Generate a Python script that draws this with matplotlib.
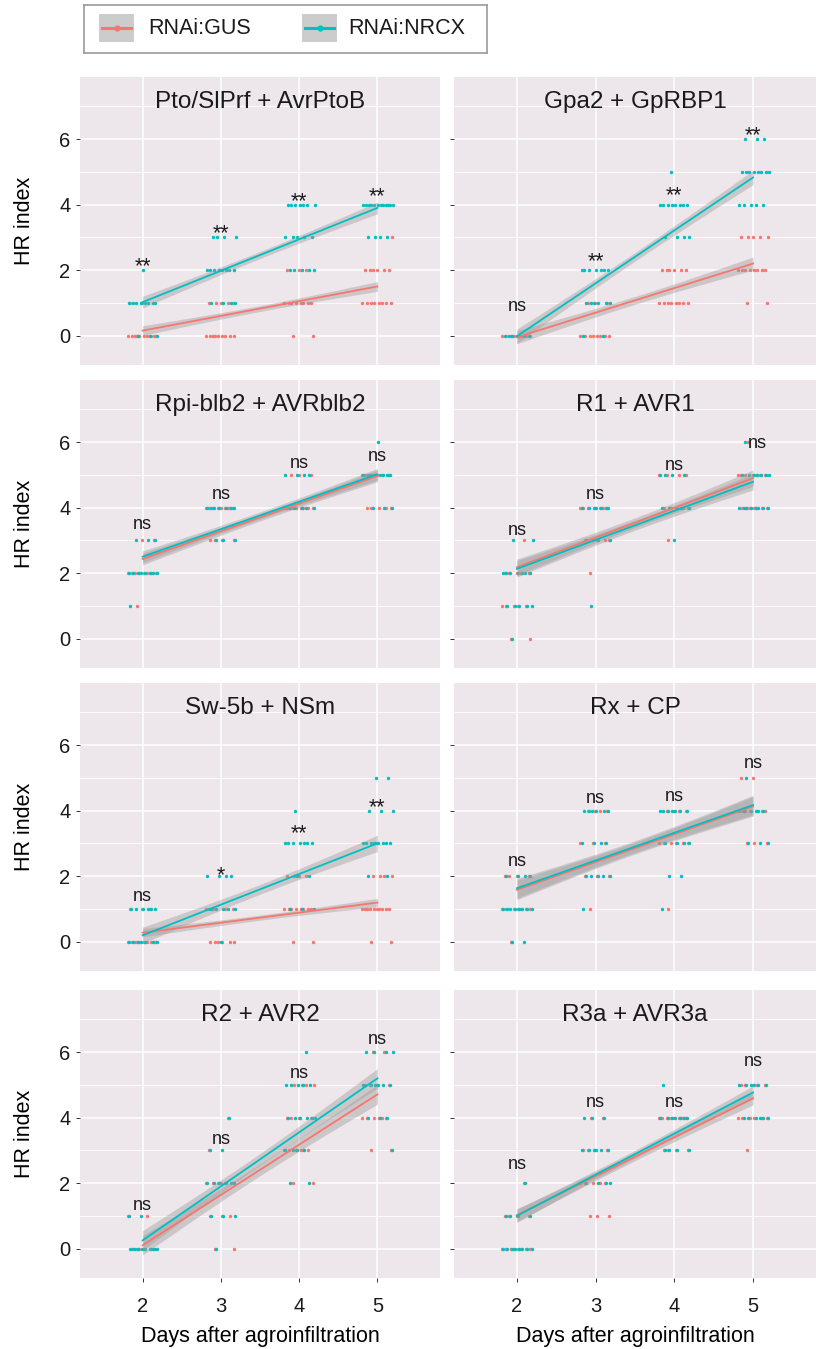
import numpy as np
import matplotlib
matplotlib.use("Agg")
import matplotlib.pyplot as plt
from matplotlib.patches import Rectangle

plt.rcParams['font.family'] = ['Liberation Sans', 'DejaVu Sans']

# ---------------------------------------------------------------
# data
# ---------------------------------------------------------------
titles = ["Pto/SlPrf + AvrPtoB", "Gpa2 + GpRBP1", "Rpi-blb2 + AVRblb2", "R1 + AVR1",
          "Sw-5b + NSm", "Rx + CP", "R2 + AVR2", "R3a + AVR3a"]
days = [2, 3, 4, 5]

# number of plants per HR score, one dict per day (2, 3, 4, 5)
pto_gus = [{0: 10, 1: 2}, {0: 9, 1: 5}, {0: 2, 1: 8, 2: 3}, {1: 8, 2: 6, 3: 1}]
pto_nrcx = [{0: 3, 1: 8, 2: 1}, {1: 4, 2: 8, 3: 4}, {2: 5, 3: 5, 4: 7}, {3: 4, 4: 12}]
gpa2_gus = [{0: 8}, {0: 8, 1: 3}, {1: 8, 2: 6}, {1: 2, 2: 8, 3: 5}]
gpa2_nrcx = [{0: 6}, {0: 2, 1: 6, 2: 7}, {3: 4, 4: 8, 5: 1}, {4: 5, 5: 8, 6: 3}]
rpi_gus = [{1: 1, 2: 8, 3: 2}, {3: 4, 4: 9}, {4: 8, 5: 3}, {4: 5, 5: 7}]
rpi_nrcx = [{1: 1, 2: 8, 3: 3}, {3: 3, 4: 7}, {4: 6, 5: 4}, {4: 3, 5: 8, 6: 1}]
r1_gus = [{0: 2, 1: 5, 2: 5, 3: 1}, {2: 1, 3: 5, 4: 7}, {3: 1, 4: 5, 5: 4}, {4: 6, 5: 7, 6: 1}]
r1_nrcx = [{0: 1, 1: 5, 2: 7, 3: 2}, {1: 1, 3: 3, 4: 7}, {3: 1, 4: 5, 5: 4}, {4: 8, 5: 7, 6: 1}]
sw5b_gus = [{0: 10, 1: 3}, {0: 6, 1: 4}, {0: 2, 1: 8, 2: 4}, {0: 2, 1: 10, 2: 4}]
sw5b_nrcx = [{0: 7, 1: 6}, {0: 1, 1: 6, 2: 4}, {1: 3, 2: 2, 3: 7, 4: 1}, {2: 2, 3: 9, 4: 3, 5: 2}]
rx_gus = [{0: 1, 1: 7, 2: 4}, {1: 1, 2: 3, 3: 3, 4: 4}, {1: 1, 3: 6, 4: 4}, {3: 3, 4: 7, 5: 2}]
rx_nrcx = [{0: 2, 1: 8, 2: 4}, {1: 1, 2: 5, 3: 4, 4: 6}, {1: 1, 2: 2, 3: 4, 4: 7}, {3: 3, 4: 6, 5: 1}]
r2_gus = [{0: 6, 1: 2}, {0: 2, 1: 3, 2: 6, 3: 1, 4: 1}, {2: 2, 3: 6, 4: 4, 5: 4}, {3: 2, 4: 6, 5: 4, 6: 2}]
r2_nrcx = [{0: 10, 1: 2}, {0: 1, 1: 3, 2: 6, 3: 2, 4: 1}, {2: 2, 3: 4, 4: 6, 5: 5, 6: 1}, {3: 1, 4: 3, 5: 6, 6: 4}]
r3a_gus = [{0: 8, 1: 4, 2: 1}, {1: 3, 2: 5, 3: 4, 4: 2}, {3: 4, 4: 9}, {3: 1, 4: 6, 5: 5}]
r3a_nrcx = [{0: 8, 1: 4, 2: 1}, {2: 4, 3: 6, 4: 3}, {3: 4, 4: 7, 5: 1}, {4: 6, 5: 6}]

gus_points = [pto_gus, gpa2_gus, rpi_gus, r1_gus, sw5b_gus, rx_gus, r2_gus, r3a_gus]
nrcx_points = [pto_nrcx, gpa2_nrcx, rpi_nrcx, r1_nrcx, sw5b_nrcx, rx_nrcx, r2_nrcx, r3a_nrcx]

# fitted line at day 2 and day 5, and CI half width at the ends
gus_fit = [(0.15, 1.5), (-0.05, 2.2), (2.43, 4.97), (2.18, 4.9),
           (0.27, 1.19), (1.58, 4.13), (0.1, 4.71), (1.02, 4.59)]
nrcx_fit = [(1.02, 3.9), (-0.02, 4.83), (2.5, 5.02), (2.13, 4.79),
            (0.19, 3.0), (1.63, 4.17), (0.25, 5.2), (1.0, 4.77)]
gus_hw = [0.15, 0.2, 0.18, 0.25, 0.13, 0.3, 0.3, 0.2]
nrcx_hw = [0.18, 0.22, 0.18, 0.25, 0.25, 0.3, 0.3, 0.2]

sig_labels = [["**", "**", "**", "**"], ["ns", "**", "**", "**"], ["ns"] * 4, ["ns"] * 4,
              ["ns", "*", "**", "**"], ["ns"] * 4, ["ns"] * 4, ["ns"] * 4]
sig_y = [[2.1, 3.1, 4.1, 4.25], [0.9, 2.27, 4.27, 6.1], [3.48, 4.4, 5.35, 5.55],
         [3.3, 4.4, 5.3, 5.95], [1.38, 2.02, 3.3, 4.1], [2.44, 4.37, 4.43, 5.44],
         [1.3, 3.34, 5.35, 6.38], [2.58, 4.46, 4.46, 5.7]]
sig_x_shift = [0, 0, 0, 0.05]

groups = ["RNAi:GUS", "RNAi:NRCX"]
colors = ["#F8766D", "#00BFC4"]

# ---------------------------------------------------------------
W, H = 816, 1349
fig = plt.figure(figsize=(W / 100, H / 100), dpi=100)

def px_axes(left, top, w, h):
    return fig.add_axes([left / W, 1 - (top + h) / H, w / W, h / H])

panel_bg = "#EDE6EA"
col_left = [80, 454]
col_w = [360, 362]
row_top = [77, 380, 683, 990]
row_h = 288

def expand(counts, day, start):
    xs, ys = [], []
    k = start
    for level in sorted(counts):
        for _ in range(counts[level]):
            off = ((k * 0.6180339887 + 0.31) % 1.0) * 0.4 - 0.2
            xs.append(day + off)
            ys.append(level)
            k += 1
    return xs, ys, k

xx = np.linspace(2, 5, 60)
for i, title in enumerate(titles):
    r, c = divmod(i, 2)
    ax = px_axes(col_left[c], row_top[r], col_w[c], row_h)
    ax.set_facecolor(panel_bg)
    for s in ax.spines.values():
        s.set_visible(False)
    ax.set_xlim(1.2, 5.8)
    ax.set_ylim(-0.9, 7.9)
    ax.set_yticks([0, 2, 4, 6])
    ax.set_yticks([1, 3, 5, 7], minor=True)
    ax.set_xticks(days)
    ax.grid(which="major", color="white", lw=1.1)
    ax.grid(which="minor", axis="y", color="white", lw=0.6)
    ax.set_axisbelow(True)
    ax.tick_params(which="major", length=3, width=0.7, color="#333333",
                   labelsize=14.5, labelcolor="#1a1a1a", pad=4)
    ax.tick_params(axis="x", pad=11)
    ax.tick_params(which="minor", length=0)
    if c == 1:
        ax.tick_params(axis="y", labelleft=False)
    else:
        ax.set_ylabel("HR index", fontsize=15.5, labelpad=17)
    if r < 3:
        ax.tick_params(axis="x", bottom=False, labelbottom=False)
    else:
        ax.set_xlabel("Days after agroinfiltration", fontsize=15.5, labelpad=7)

    # jittered points
    for d_i, day in enumerate(days):
        k = 0
        for g, pts in enumerate([gus_points, nrcx_points]):
            xs, ys, k = expand(pts[i][d_i], day, k)
            ax.scatter(xs, ys, s=6, color=colors[g], lw=0, zorder=2)

    # lm fits with confidence bands
    for g, (fit, hw) in enumerate([(gus_fit, gus_hw), (nrcx_fit, nrcx_hw)]):
        y0, y1 = fit[i]
        yy = y0 + (y1 - y0) * (xx - 2) / 3
        band = hw[i] * np.sqrt((1 + (xx - 3.5) ** 2 / 1.25) / 2.8)
        ax.fill_between(xx, yy - band, yy + band, color="#999999", alpha=0.4, lw=0, zorder=3)
        ax.plot(xx, yy, color=colors[g], lw=1.3, zorder=4)

    for d_i, day in enumerate(days):
        lab = sig_labels[i][d_i]
        fs = 15.5 if "*" in lab else 13
        dx = sig_x_shift[d_i] if i == 3 else 0
        ax.text(day + dx, sig_y[i][d_i], lab, ha="center", va="center",
                fontsize=fs, color="#1a1a1a", zorder=5)
    ax.text(3.5, 7.15, title, ha="center", va="center", fontsize=17.5, color="#1a1a1a")

# legend box
lg = px_axes(84, 5, 403, 48)
lg.set_xlim(84, 487)
lg.set_ylim(53, 5)
lg.set_xticks([])
lg.set_yticks([])
for s in lg.spines.values():
    s.set_color("#999999")
    s.set_linewidth(1.2)
key_x = [99, 302]
text_x = [148, 348]
for g in range(2):
    lg.add_patch(Rectangle((key_x[g], 14), 35, 28, color="#CCCCCC", lw=0))
    lg.plot([key_x[g] + 3, key_x[g] + 32], [28, 28], color=colors[g], lw=2.2)
    lg.plot([key_x[g] + 17.5], [28], "o", color=colors[g], ms=3.5)
    lg.text(text_x[g], 29, groups[g], ha="left", va="center", fontsize=15.5, color="#1a1a1a")

fig.savefig("out.png", dpi=100)
